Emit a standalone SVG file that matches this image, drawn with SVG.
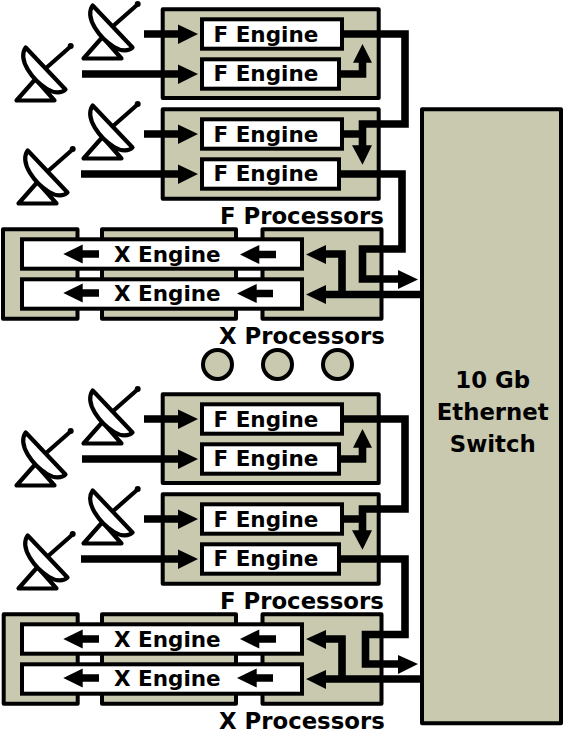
<svg xmlns="http://www.w3.org/2000/svg" width="565" height="746" viewBox="0 0 565 746">
<style>
.box{fill:#c9c9b0;stroke:#000;stroke-width:4;stroke-linejoin:round}
.eng{fill:#fff;stroke:#000;stroke-width:4}
.t{font-family:"DejaVu Sans",sans-serif;font-weight:bold;font-size:21.5px;fill:#000}
.lb{font-size:22.8px}
.c{text-anchor:middle}
.wire{fill:none;stroke:#000;stroke-width:7.6;stroke-linejoin:miter}
.head{fill:#000}
.d{fill:#fff;stroke:#000;stroke-width:4.2;stroke-linejoin:round;stroke-linecap:round}
</style>
<defs>
<g id="dish">
<path class="d" d="M83.500 58.500H121.500L102.500 37Z"/>
<path class="d" d="M112 27L137 5" fill="none"/>
<circle cx="137.700" cy="4" r="3"/>
<path class="d" d="M92.700 5.500L132.500 47.500C129 51 122 52 114 47C100 38 84 18 92.700 5.500Z"/>
</g>
</defs>
<rect width="565" height="746" fill="#fff"/>

<g id="x-proc-1-a"><rect class="box" x="3" y="229.300" width="74.500" height="89.400"/></g>
<g id="x-proc-1-b"><rect class="box" x="102" y="229.300" width="134" height="89.400"/></g>
<g id="x-proc-1-c"><rect class="box" x="262.500" y="229.300" width="119" height="89.400"/></g>
<g id="x-proc-2-a"><rect class="box" x="3.700" y="614.300" width="74" height="89.400"/></g>
<g id="x-proc-2-b"><rect class="box" x="102" y="614.300" width="134" height="89.400"/></g>
<g id="x-proc-2-c"><rect class="box" x="262.500" y="614.300" width="119" height="89.400"/></g>
<g id="f-proc-1"><rect class="box" x="162.700" y="9.300" width="216" height="88.700"/></g>
<g id="f-proc-2"><rect class="box" x="162.700" y="109.300" width="216" height="89.400"/></g>
<g id="f-proc-3"><rect class="box" x="162.700" y="394.300" width="216" height="88.700"/></g>
<g id="f-proc-4"><rect class="box" x="162.700" y="494.300" width="216" height="89.400"/></g>
<g id="switch"><rect class="box" x="422" y="109.300" width="139" height="614"/>
<text class="t lb c" x="492.700" y="387.800">10 Gb</text><text class="t lb c" x="492.700" y="419.800">Ethernet</text><text class="t lb c" x="492.700" y="451.700">Switch</text></g>

<g id="dish-1"><use href="#dish"/></g>
<g id="dish-2"><use href="#dish" transform="translate(-67 42)"/></g>
<g id="dish-3"><use href="#dish" transform="translate(0 100)"/></g>
<g id="dish-4"><use href="#dish" transform="translate(-65 145)"/></g>
<g id="dish-5"><use href="#dish" transform="translate(0 385)"/></g>
<g id="dish-6"><use href="#dish" transform="translate(-67 427)"/></g>
<g id="dish-7"><use href="#dish" transform="translate(0 485)"/></g>
<g id="dish-8"><use href="#dish" transform="translate(-65 530)"/></g>

<g id="fe-1"><rect class="eng" x="202" y="19.300" width="140" height="29.400"/><text class="t" x="213.500" y="41.700">F Engine</text></g>
<g id="fe-2"><rect class="eng" x="202" y="59.300" width="137" height="29.400"/><text class="t" x="213.500" y="80.700">F Engine</text></g>
<g id="fe-3"><rect class="eng" x="202" y="119.300" width="140" height="29.400"/><text class="t" x="213.500" y="141.500">F Engine</text></g>
<g id="fe-4"><rect class="eng" x="202" y="159.300" width="137" height="29.400"/><text class="t" x="213.500" y="180.700">F Engine</text></g>
<g id="fe-5"><rect class="eng" x="202" y="404.300" width="140" height="29.400"/><text class="t" x="213.500" y="426.700">F Engine</text></g>
<g id="fe-6"><rect class="eng" x="202" y="444.300" width="137" height="29.400"/><text class="t" x="213.500" y="465.700">F Engine</text></g>
<g id="fe-7"><rect class="eng" x="202" y="504.300" width="140" height="29.400"/><text class="t" x="213.500" y="526.500">F Engine</text></g>
<g id="fe-8"><rect class="eng" x="202" y="544.300" width="137" height="29.400"/><text class="t" x="213.500" y="565.700">F Engine</text></g>
<g id="xe-1"><rect class="eng" x="22" y="239.300" width="280" height="29.400"/><text class="t" x="114" y="261.700">X Engine</text></g>
<g id="xe-2"><rect class="eng" x="22" y="279.300" width="280" height="29.400"/><text class="t" x="114" y="300.700">X Engine</text></g>
<g id="xe-3"><rect class="eng" x="22" y="624.300" width="280" height="29.400"/><text class="t" x="114" y="646.700">X Engine</text></g>
<g id="xe-4"><rect class="eng" x="22" y="664.300" width="280" height="29.400"/><text class="t" x="114" y="685.700">X Engine</text></g>

<g id="labels">
<text class="t lb" x="220" y="223.500">F Processors</text>
<text class="t lb" x="219" y="343.500">X Processors</text>
<text class="t lb" x="220" y="608.500">F Processors</text>
<text class="t lb" x="219" y="728.500">X Processors</text>
</g>
<g id="dots">
<circle class="box" cx="217.500" cy="364.500" r="14.500"/>
<circle class="box" cx="277.500" cy="364.500" r="14.500"/>
<circle class="box" cx="337.500" cy="364.500" r="14.500"/>
</g>

<g id="connectors">
<path class="wire" d="M144 34H180M82 74H180M144 134H180M81 174H180"/>
<path class="head" d="M178 24.500L198 34L178 44ZM178 64.500L198 74L178 84ZM178 124.500L198 134L178 144ZM178 164.500L198 174L178 184Z"/>
<path class="wire" d="M341 74H362.500V60M344 34H405V124H362.500V148M344 134H362.500M341 174H402V249H362.500V279H400M420 294.500H324M342 294.500V254H324"/>
<path class="head" d="M353 62.700L362.500 44L372 62.700ZM352 145.300H372L362.500 164.700ZM398 270L418 279.500L398 289ZM326 285L306 294.500L326 304ZM326 245L306 254.500L326 264Z"/>
<path class="wire" d="M276 254.500H258M273 293.500H255M99 254H81M99 293H81"/>
<path class="head" d="M259.300 245L240 254.500L259.300 264ZM256.700 284L237 293.500L256.700 303ZM82.700 244.500L63.300 254L82.700 263.500ZM82.700 283.500L63.300 293L82.700 302.500Z"/>
<g transform="translate(0 385)">
<path class="wire" d="M144 34H180M82 74H180M144 134H180M81 174H180"/>
<path class="head" d="M178 24.500L198 34L178 44ZM178 64.500L198 74L178 84ZM178 124.500L198 134L178 144ZM178 164.500L198 174L178 184Z"/>
<path class="wire" d="M341 74H362.500V60M344 34H405V124H362.500V148M344 134H362.500M341 174H405V249.500H365.500V279H400M420 294H324M342 294V254H324"/>
<path class="head" d="M353 62.700L362.500 44L372 62.700ZM352 145.300H372L362.500 164.700ZM398 270L418 279L398 289ZM326 285L306 294L326 304ZM326 245L306 254L326 264Z"/>
<path class="wire" d="M276 254H258M273 293H255M99 254H81M99 293H81"/>
<path class="head" d="M259.300 244.500L240 254L259.300 263.500ZM256.700 283.500L237 293L256.700 302.500ZM82.700 244.500L63.300 254L82.700 263.500ZM82.700 283.500L63.300 293L82.700 302.500Z"/>
</g>
</g>
</svg>
